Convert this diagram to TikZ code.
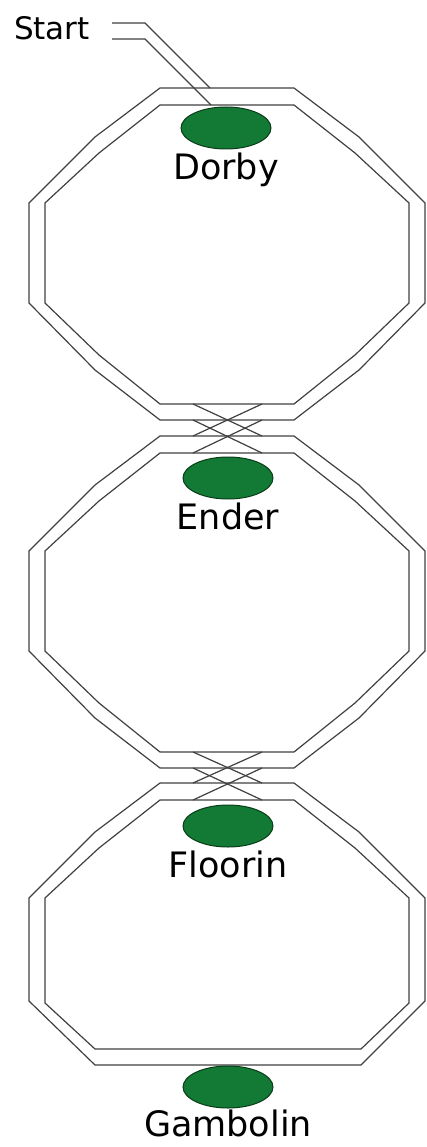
\documentclass[tikz,border=0pt]{standalone}
\usepackage{fontspec}
\setmainfont{DejaVu Sans}
\usetikzlibrary{positioning,shapes.geometric}
\definecolor{stopgreen}{RGB}{18,122,52}
\definecolor{stopedge}{RGB}{10,60,25}
\tikzset{
    track/.style={line width=1.2pt,draw=black!75},
    stopnode/.style={ellipse,draw=stopedge,line width=1pt,fill=stopgreen,
      minimum width=90pt,minimum height=42pt,inner sep=0pt},
    stoplabel/.style={inner sep=0pt,font=\fontsize{35}{40}\selectfont},
    every node/.style={font=\small}
}
\begin{document}
\begin{tikzpicture}[x=1pt,y=-1pt]
  \useasboundingbox (0,0) rectangle (426,1147);

  % 两个完整环线
  \foreach \cy in {254,602}{
    \draw[track] (160,\cy-166) -- (294,\cy-166) -- (359,\cy-117) -- (425,\cy-51)
      -- (425,\cy+49) -- (359,\cy+116) -- (294,\cy+166) -- (160,\cy+166)
      -- (95,\cy+116) -- (29,\cy+49) -- (29,\cy-51) -- (95,\cy-117) -- cycle;
    \draw[track] (160,\cy-149) -- (294,\cy-149) -- (355,\cy-101) -- (409,\cy-51)
      -- (409,\cy+49) -- (355,\cy+101) -- (294,\cy+150) -- (160,\cy+150)
      -- (99,\cy+101) -- (45,\cy+49) -- (45,\cy-51) -- (99,\cy-101) -- cycle;
  }

  % 最下面的环线
  \draw[track] (160,783) -- (294,783) -- (359,832) -- (425,898) -- (425,1001)
    -- (361,1065) -- (95,1065) -- (29,1001) -- (29,898) -- (95,832) -- cycle;
  \draw[track] (160,800) -- (294,800) -- (355,848) -- (409,898) -- (409,1003)
    -- (361,1049) -- (95,1049) -- (45,1003) -- (45,898) -- (99,848) -- cycle;

  % 渡线
  \foreach \ya/\yb in {404/436,752/783}{
    \draw[track] (193,\ya) -- (262,\yb);
    \draw[track] (262,\ya) -- (193,\yb);
    \draw[track] (193,\ya+16) -- (262,\yb+17);
    \draw[track] (262,\ya+16) -- (193,\yb+17);
  }

  % 起点
  \node[inner sep=0pt,font=\fontsize{31}{35}\selectfont] (start) at (52,28) {Start};
  \draw[track] (112,23) -- (145,23) -- (210,88);
  \draw[track] (112,39) -- (145,39) -- (211,105);

  % 车站
  \node[stopnode] (dorby) at (226,128) {};
  \node[stopnode] (ender) at (228,478) {};
  \node[stopnode] (floorin) at (228,826) {};
  \node[stopnode] (gambolin) at (228,1087) {};

  \node[stoplabel,below=3pt of dorby] {Dorby};
  \node[stoplabel,below=3pt of ender] {Ender};
  \node[stoplabel,below=3pt of floorin] {Floorin};
  \node[stoplabel,below=1pt of gambolin] {Gambolin};
\end{tikzpicture}
\end{document}
